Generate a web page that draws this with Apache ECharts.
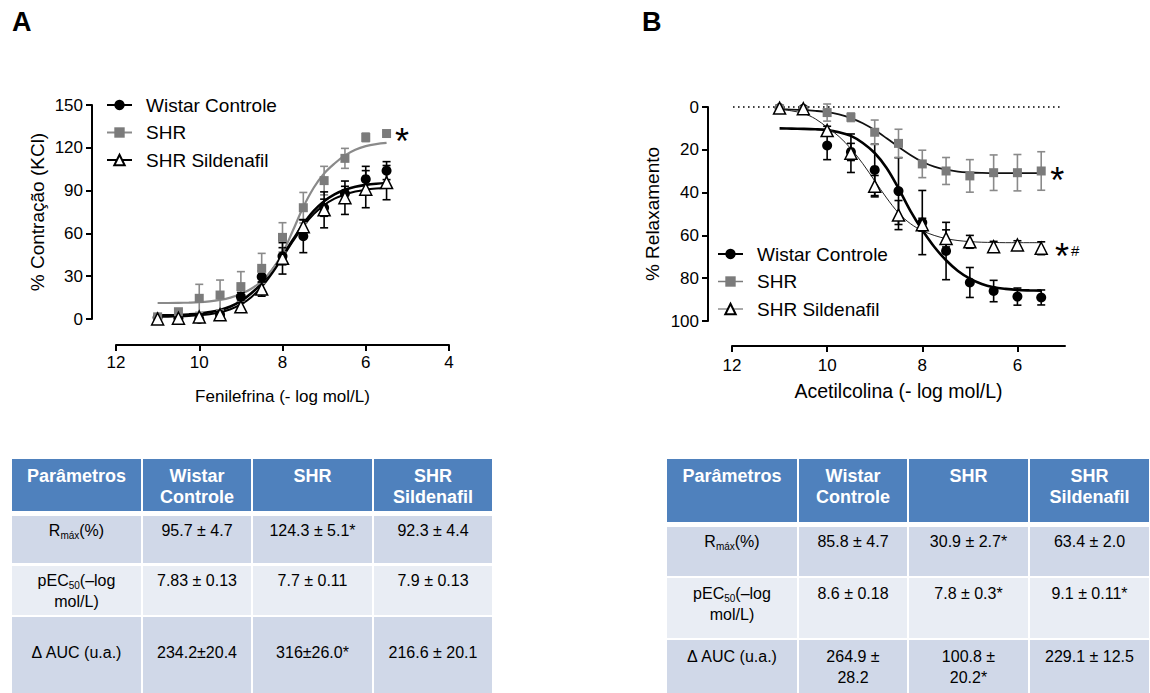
<!DOCTYPE html>
<html lang="pt">
<head>
  <meta charset="UTF-8">
  <title>Fenilefrina / Acetilcolina</title>
  <script src="https://cdn.jsdelivr.net/npm/echarts@6.0.0/dist/echarts.min.js"></script>
  <style>
    html, body { margin: 0; padding: 0; background: #fff; }
    body {
      width: 1150px; height: 693px; overflow: hidden; position: relative;
      font-family: Arial, "Liberation Sans", Helvetica, sans-serif;
    }
    #main { position: absolute; left: 0; top: 0; width: 1150px; height: 440px; }
    /* células das tabelas */
    .cell {
      position: absolute; box-sizing: border-box; text-align: center;
      color: #000; font-size: 16px; line-height: 21px;
    }
    .cell.head { background: #4f81bd; color: #fff; font-weight: bold; font-size: 18px; }
    .cell.odd { background: #d0d8e8; }
    .cell.even { background: #e9edf4; }
    sub { font-size: 10px; line-height: 0; vertical-align: -3px; }
  </style>
</head>
<body>
  <div id="main"></div>

  <script>
    // ---- dados ----
    const doses = [11, 10.5, 10, 9.5, 9, 8.5, 8, 7.5, 7, 6.5, 6, 5.5];

    // A - Fenilefrina, % contração
    const wistarA    = [1, 0.5, 0, 3, 15.6, 29.7, 44, 58, 78, 88, 98, 104];
    const wistarAErr = [0.5, 0.5, 0.5, 1, 3, 4, 6, 11.5, 6, 5, 9, 6.3];
    const shrA       = [1.5, 5.1, 14.5, 16.8, 22.7, 35.5, 57.2, 78, 97, 112.6, 127.3, 130];
    const shrAErr    = [0.5, 1, 9.8, 10.5, 10.5, 10.5, 10.3, 10.7, 10, 7, 3, 1];
    const sildA      = [0, 0.5, 1.4, 3, 8.5, 21, 42.5, 64.7, 76.5, 85, 91, 95.6];
    const sildAErr   = [1, 1, 1, 1.5, 3, 5, 11, 5, 12.6, 11.7, 13, 12];

    // B - Acetilcolina, % relaxamento
    const wistarB    = [0.5, 0.8, 18, 21, 29.4, 39.3, 54, 67.3, 82, 86, 88.6, 89];
    const wistarBErr = [0.5, 0.5, 6.6, 4, 12, 15.6, 15, 13.4, 7, 5, 4, 3.5];
    const shrB       = [0.8, 1.5, 2.6, 4.8, 11.8, 17, 26.6, 29.9, 32.2, 30.7, 30.7, 29.9];
    const shrBErr    = [0.5, 0.5, 4, 2, 5.7, 6.6, 6.4, 6.3, 7.6, 8.3, 8.5, 9];
    const sildB      = [0.5, 0.8, 11, 21.6, 37, 50.5, 55, 61.4, 63, 65.3, 64.5, 66];
    const sildBErr   = [0.5, 0.5, 2, 9, 5, 6.8, 3, 4, 3, 2.5, 2, 3];

    // curvas ajustadas
    const curveX = [11, 10.75, 10.5, 10.25, 10, 9.75, 9.5, 9.25, 9, 8.75, 8.5, 8.25, 8,
                    7.75, 7.5, 7.25, 7, 6.75, 6.5, 6.25, 6, 5.75, 5.5];
    const wistarCurveA = [2.5, 2.6, 2.8, 3.2, 3.8, 4.8, 6.3, 8.8, 12.5, 18, 25, 34, 44.5,
                          55.5, 66.5, 75.8, 82.6, 87.4, 90.6, 92.7, 94, 94.8, 95.3];
    const shrCurveA    = [11.2, 11.2, 11.3, 11.5, 11.8, 12.4, 13.4, 15, 17.5, 21.2, 26.5, 34.5, 46,
                          62, 78.5, 92, 102, 109, 114.7, 118.7, 121.2, 122.6, 123.4];
    const sildCurveA   = [1.5, 1.6, 1.8, 2.1, 2.6, 3.4, 4.7, 6.8, 10.2, 15.3, 22.5, 32, 43,
                          54.5, 65, 73.5, 79.8, 84.3, 87.3, 89.3, 90.6, 91.4, 91.9];
    const wistarCurveB = [10, 10.1, 10.2, 10.4, 10.8, 11.8, 13.5, 16.8, 21.5, 28.5, 38, 48.5, 57.5,
                          65.3, 71.6, 76.6, 80.2, 82.7, 84.2, 85, 85.5, 85.7, 85.8];
    const shrCurveB    = [1.1, 1.2, 1.4, 1.8, 2.4, 3.5, 5.2, 7.6, 10.8, 14.6, 18.6, 22.4, 25.6,
                          27.9, 29.3, 30.2, 30.6, 30.8, 30.9, 30.9, 30.9, 30.9, 30.9];
    const sildCurveB   = [1, 1.8, 3, 5.5, 9.5, 13.8, 19.5, 26.5, 34.5, 42.5, 49.5, 54.5, 57.8,
                          60, 61.5, 62.4, 62.9, 63.2, 63.3, 63.4, 63.4, 63.4, 63.4];

    const zeroLineB = [[12.4, 0], [5.1, 0]];
    const ticksA = [12, 10, 8, 6, 4];
    const ticksB = [12, 10, 8, 6];

    const groups = ['Wistar Controle', 'SHR', 'SHR Sildenafil'];

    // tabelas
    const headers = ['Parâmetros', 'Wistar<br>Controle', 'SHR', 'SHR<br>Sildenafil'];
    const params = ['R<sub>máx</sub>(%)', 'pEC<sub>50</sub>(–log<br>mol/L)', 'Δ AUC (u.a.)'];
    const tabAWistar = ['95.7 ± 4.7', '7.83 ± 0.13', '234.2±20.4'];
    const tabASHR    = ['124.3 ± 5.1*', '7.7 ± 0.11', '316±26.0*'];
    const tabASild   = ['92.3 ± 4.4', '7.9 ± 0.13', '216.6 ± 20.1'];
    const tabBWistar = ['85.8 ± 4.7', '8.6 ± 0.18', '264.9 ±<br>28.2'];
    const tabBSHR    = ['30.9 ± 2.7*', '7.8 ± 0.3*', '100.8 ±<br>20.2*'];
    const tabBSild   = ['63.4 ± 2.0', '9.1 ± 0.11*', '229.1 ± 12.5'];

    // ---- tabelas (HTML) ----
    function buildTable(cols, rows, pads, columns) {
      const cells = [headers].concat([0, 1, 2].map(r => [params[r]].concat(columns.map(c => c[r]))));
      cells.forEach((row, r) => {
        row.forEach((txt, c) => {
          const d = document.createElement('div');
          d.className = 'cell ' + (r === 0 ? 'head' : (r % 2 ? 'odd' : 'even'));
          d.style.left = (cols[c] + (c ? 1 : 0)) + 'px';
          d.style.width = (cols[c + 1] - cols[c] - (c ? 1 : 0) - 1) + 'px';
          d.style.top = rows[r][0] + 'px';
          d.style.height = (rows[r][1] - rows[r][0]) + 'px';
          d.style.paddingTop = pads[r] + 'px';
          d.innerHTML = txt;
          document.body.appendChild(d);
        });
      });
    }
    buildTable([12, 142, 252, 373, 493], [[459, 511], [516, 563], [566, 615], [617, 700]],
               [6.5, 3.5, 3.5, 24.5], [tabAWistar, tabASHR, tabASild]);
    buildTable([667, 798, 908, 1029, 1150], [[459, 522], [527, 576], [578, 638], [640, 700]],
               [6.5, 3.5, 4.5, 5.5], [tabBWistar, tabBSHR, tabBSild]);

    // ---- gráficos ----
    const font = 'Arial, "Liberation Sans", Helvetica, sans-serif';
    const gray = '#7b7b7b';
    let chart = echarts.init(document.getElementById('main'), null, { renderer: 'svg' });

    function pairs(xs, ys) { return xs.map((x, i) => [x, ys[i]]); }
    function bars(ys, es) { return doses.map((x, i) => [x, ys[i] - es[i], ys[i] + es[i]]); }

    function errorBars(idx, data, color) {
      return {
        type: 'custom', xAxisIndex: idx, yAxisIndex: idx, data: data, z: 3, silent: true,
        encode: { x: 0, y: [1, 2] },
        renderItem: function (params, api) {
          let x = api.value(0);
          let p1 = api.coord([x, api.value(1)]);
          let p2 = api.coord([x, api.value(2)]);
          let st = { stroke: color, lineWidth: 1.6 };
          return {
            type: 'group', children: [
              { type: 'line', shape: { x1: p1[0], y1: p1[1], x2: p2[0], y2: p2[1] }, style: st },
              { type: 'line', shape: { x1: p1[0] - 4, y1: p1[1], x2: p1[0] + 4, y2: p1[1] }, style: st },
              { type: 'line', shape: { x1: p2[0] - 4, y1: p2[1], x2: p2[0] + 4, y2: p2[1] }, style: st }
            ]
          };
        }
      };
    }

    function curve(name, idx, ys, color, width, symbol, fill) {
      return {
        name: name, type: 'line', xAxisIndex: idx, yAxisIndex: idx, data: pairs(curveX, ys),
        smooth: 0.35, showSymbol: false, symbol: symbol, silent: true, z: 2,
        lineStyle: { color: color, width: width },
        itemStyle: { color: fill, borderColor: '#000', borderWidth: symbol === 'triangle' ? 1.4 : 0 }
      };
    }

    function points(idx, ys, symbol, size, fill, z, label) {
      let s = {
        type: 'scatter', xAxisIndex: idx, yAxisIndex: idx, data: pairs(doses, ys), z: z, silent: true,
        symbol: symbol, symbolSize: size,
        itemStyle: { color: fill, borderColor: '#000', borderWidth: symbol === 'triangle' ? 1.5 : 0, opacity: 1 }
      };
      if (label) s.label = label;
      return s;
    }

    const last = doses.length - 1;
    function starLabel(text, dist, dy, rich) {
      return {
        show: true, position: 'right', distance: dist, offset: [0, dy],
        formatter: p => p.dataIndex === last ? text : '',
        color: '#000', fontSize: 36, fontFamily: font, rich: rich || {}
      };
    }

    const axisBase = {
      type: 'value',
      axisLine: { show: true, onZero: false, lineStyle: { color: '#000', width: 2 } },
      axisTick: { show: true, length: 6, lineStyle: { color: '#000', width: 2 } },
      axisLabel: { color: '#000', fontSize: 17, fontFamily: font },
      splitLine: { show: false },
      nameLocation: 'middle',
      nameTextStyle: { color: '#000', fontFamily: font }
    };

    function legend(prefix, left, top, lineOverride) {
      return {
        orient: 'vertical', left: left, top: top, itemWidth: 25, itemHeight: 13, itemGap: 7.5,
        selectedMode: false,
        data: groups.map((g, i) => {
          let d = { name: prefix + g };
          if (lineOverride && lineOverride[i]) d.lineStyle = lineOverride[i];
          return d;
        }),
        formatter: n => n.slice(2),
        textStyle: { color: '#000', fontSize: 19, lineHeight: 20, fontFamily: font, padding: [0, 0, 0, 9] }
      };
    }

    let option = {
      animation: false,
      textStyle: { fontFamily: font },
      title: [
        { text: 'A', left: 7, top: 3, textStyle: { fontSize: 27, fontWeight: 'bold', color: '#000', fontFamily: font } },
        { text: 'B', left: 637, top: 3, textStyle: { fontSize: 27, fontWeight: 'bold', color: '#000', fontFamily: font } }
      ],
      grid: [
        { left: 116, top: 105, width: 333, height: 214 },
        { left: 732, top: 107, width: 333, height: 214 }
      ],
      legend: [
        legend('A:', 101, 90),
        legend('B:', 712, 239, [null, { color: gray, width: 1.5 }, { color: '#555', width: 1 }])
      ],
      xAxis: [
        Object.assign({}, axisBase, {
          gridIndex: 0, min: 4, max: 12, inverse: true, offset: 26,
          axisTick: Object.assign({}, axisBase.axisTick, { customValues: ticksA }),
          axisLabel: Object.assign({}, axisBase.axisLabel, { margin: 9, customValues: ticksA }),
          name: 'Fenilefrina (- log mol/L)', nameGap: 43,
          nameTextStyle: { color: '#000', fontFamily: font, fontSize: 17 }
        }),
        Object.assign({}, axisBase, {
          gridIndex: 1, min: 5, max: 12, inverse: true, offset: 25,
          axisTick: Object.assign({}, axisBase.axisTick, { customValues: ticksB }),
          axisLabel: Object.assign({}, axisBase.axisLabel, { margin: 11, customValues: ticksB }),
          name: 'Acetilcolina (- log mol/L)', nameGap: 35,
          nameTextStyle: { color: '#000', fontFamily: font, fontSize: 19.5 }
        })
      ],
      yAxis: [
        Object.assign({}, axisBase, {
          gridIndex: 0, min: 0, max: 150, interval: 30, offset: 24,
          axisLabel: Object.assign({}, axisBase.axisLabel, { margin: 9 }),
          name: '% Contração (KCl)', nameGap: 45, nameRotate: 90,
          nameTextStyle: { color: '#000', fontFamily: font, fontSize: 19 }
        }),
        Object.assign({}, axisBase, {
          gridIndex: 1, min: 0, max: 100, interval: 20, inverse: true, offset: 24,
          axisLabel: Object.assign({}, axisBase.axisLabel, { margin: 9 }),
          name: '% Relaxamento', nameGap: 46, nameRotate: 90,
          nameTextStyle: { color: '#000', fontFamily: font, fontSize: 19 }
        })
      ],
      series: [
        // A
        curve('A:' + groups[0], 0, wistarCurveA, '#000', 2.6, 'circle', '#000'),
        curve('A:' + groups[1], 0, shrCurveA, '#8a8a8a', 2.2, 'rect', gray),
        curve('A:' + groups[2], 0, sildCurveA, '#000', 2, 'triangle', '#fff'),
        errorBars(0, bars(wistarA, wistarAErr), '#000'),
        errorBars(0, bars(shrA, shrAErr), '#8a8a8a'),
        errorBars(0, bars(sildA, sildAErr), '#000'),
        points(0, wistarA, 'circle', 10, '#000', 4),
        points(0, shrA, 'rect', 9, gray, 5, starLabel('*', 4, 7.5)),
        points(0, sildA, 'triangle', 12, '#fff', 6),
        // B
        {
          type: 'line', xAxisIndex: 1, yAxisIndex: 1, data: zeroLineB, clip: false, symbol: 'none',
          silent: true, z: 1, lineStyle: { color: '#000', width: 1.6, type: [1.6, 3.4] }
        },
        curve('B:' + groups[0], 1, wistarCurveB, '#000', 2.6, 'circle', '#000'),
        curve('B:' + groups[1], 1, shrCurveB, '#111', 1.8, 'rect', gray),
        curve('B:' + groups[2], 1, sildCurveB, '#222', 1, 'triangle', '#fff'),
        errorBars(1, bars(wistarB, wistarBErr), '#000'),
        errorBars(1, bars(shrB, shrBErr), '#8a8a8a'),
        errorBars(1, bars(sildB, sildBErr), '#000'),
        points(1, wistarB, 'circle', 10, '#000', 4),
        points(1, shrB, 'rect', 9, gray, 5, starLabel('*', 4.5, 10)),
        points(1, sildB, 'triangle', 12, '#fff', 6,
          starLabel('{s|*}{h|#}', 7, 8, {
            s: { fontSize: 36, color: '#000', fontFamily: font, verticalAlign: 'middle' },
            h: { fontSize: 15, color: '#000', fontFamily: font, verticalAlign: 'middle', padding: [0, 0, 12, 2] }
          }))
      ]
    };
    chart.setOption(option);

    window.addEventListener('resize', function () {
      chart.resize();
    });
  </script>
</body>
</html>
